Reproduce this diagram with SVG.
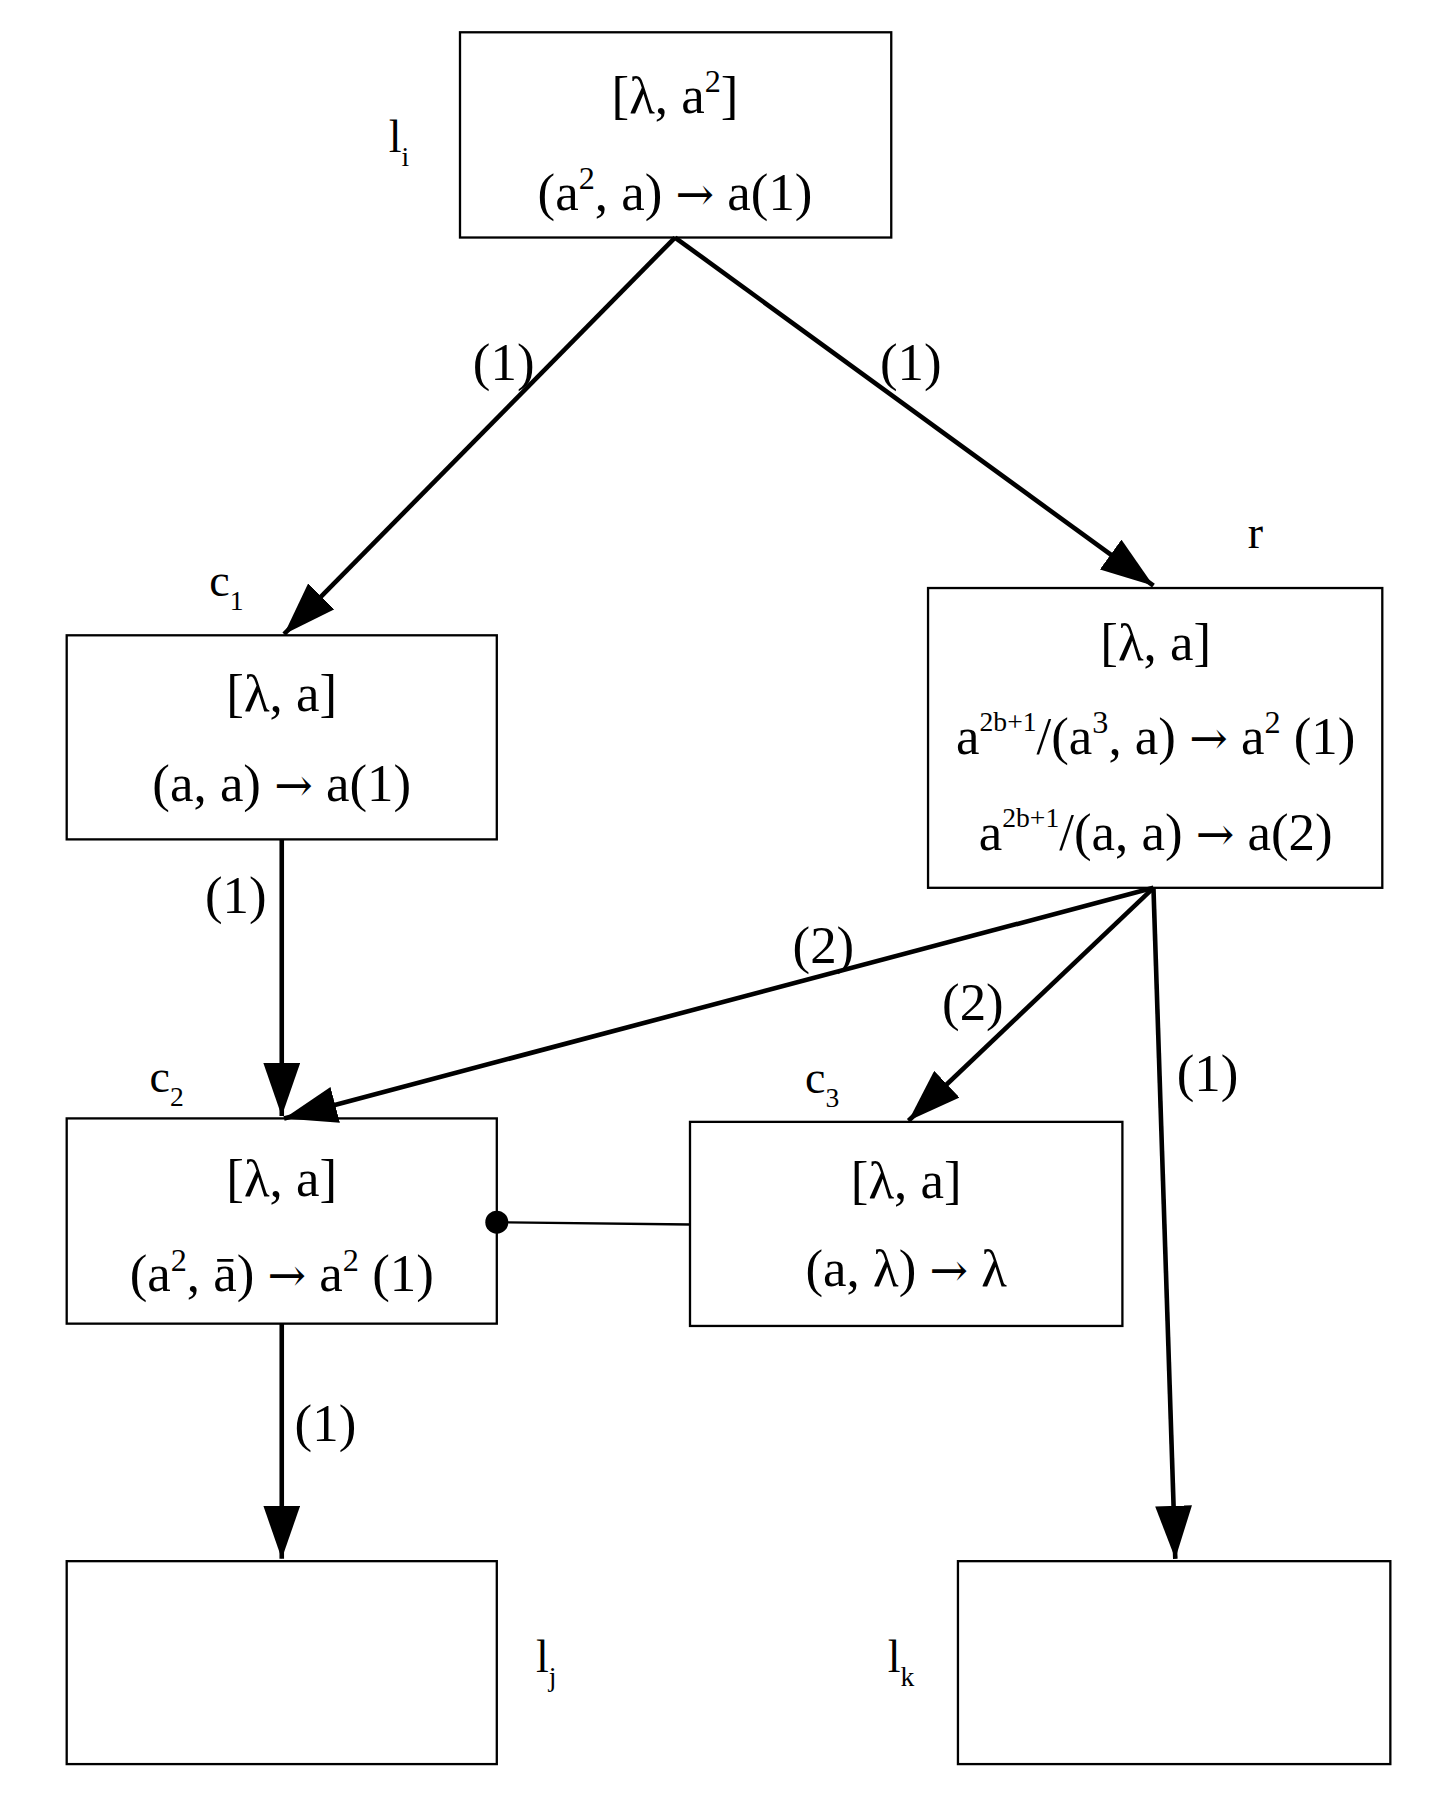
<svg xmlns="http://www.w3.org/2000/svg" width="1430" height="1810" viewBox="0 0 1430 1810">
<style>
.b{fill:#fff;stroke:#000;stroke-width:2}
text{font-family:"Liberation Serif","Times New Roman",serif;fill:#000}
.t{font-size:46px;text-anchor:middle}
.l{font-size:40px}
.ar{font-family:"DejaVu Serif",serif;font-size:40px}
.c{stroke:#000;stroke-width:4;fill:none}
</style>
<defs>
<marker id="ah" markerUnits="userSpaceOnUse" viewBox="0 0 46 32" refX="46" refY="16" markerWidth="46" markerHeight="32" orient="auto"><path d="M0,0 L46,16 L0,32 Z" fill="#000"/></marker>
</defs>
<rect width="1430" height="1810" fill="#fff"/>
<g transform="scale(1.15,1.153)">
<g id="li"><rect class="b" x="400" y="28" width="375" height="178"/>
<text class="t" x="587" y="98">[λ, a<tspan font-size="28" dy="-18">2</tspan><tspan dy="18">]</tspan></text>
<text class="t" x="587" y="182">(a<tspan font-size="28" dy="-18">2</tspan><tspan dy="18">, a) </tspan><tspan class="ar">→</tspan> a(1)</text>
<text class="l" x="338" y="132">l<tspan font-size="24" dy="12">i</tspan></text></g>
<g id="c1"><rect class="b" x="58" y="551" width="374" height="177"/>
<text class="t" x="245" y="617">[λ, a]</text>
<text class="t" x="245" y="695">(a, a) <tspan class="ar">→</tspan> a(1)</text>
<text class="l" x="182" y="517">c<tspan font-size="24" dy="12">1</tspan></text></g>
<g id="r"><rect class="b" x="807" y="510" width="395" height="260"/>
<text class="t" x="1005" y="572">[λ, a]</text>
<text class="t" x="1005" y="654">a<tspan font-size="24" dy="-20">2b+1</tspan><tspan dy="20">/(a</tspan><tspan font-size="28" dy="-18">3</tspan><tspan dy="18">, a) </tspan><tspan class="ar">→</tspan> a<tspan font-size="28" dy="-18">2</tspan><tspan dy="18"> (1)</tspan></text>
<text class="t" x="1005" y="737">a<tspan font-size="24" dy="-20">2b+1</tspan><tspan dy="20">/(a, a) </tspan><tspan class="ar">→</tspan> a(2)</text>
<text class="l" x="1085" y="475">r</text></g>
<g id="c2"><rect class="b" x="58" y="970" width="374" height="178"/>
<text class="t" x="245" y="1037">[λ, a]</text>
<text class="t" x="245" y="1120">(a<tspan font-size="28" dy="-18">2</tspan><tspan dy="18">, ā) </tspan><tspan class="ar">→</tspan> a<tspan font-size="28" dy="-18">2</tspan><tspan dy="18"> (1)</tspan></text>
<text class="l" x="130" y="947">c<tspan font-size="24" dy="12">2</tspan></text></g>
<g id="c3"><rect class="b" x="600" y="973" width="376" height="177"/>
<text class="t" x="788" y="1039">[λ, a]</text>
<text class="t" x="788" y="1115">(a, λ) <tspan class="ar">→</tspan> λ</text>
<text class="l" x="700" y="948">c<tspan font-size="24" dy="12">3</tspan></text></g>
<g id="lj"><rect class="b" x="58" y="1354" width="374" height="176"/>
<text class="l" x="466" y="1450">l<tspan font-size="24" dy="12">j</tspan></text></g>
<g id="lk"><rect class="b" x="833" y="1354" width="376" height="176"/>
<text class="l" x="772" y="1450">l<tspan font-size="24" dy="12">k</tspan></text></g>
<g id="connectors">
<line class="c" x1="587" y1="206" x2="247" y2="550" marker-end="url(#ah)"/>
<line class="c" x1="587" y1="206" x2="1003" y2="508" marker-end="url(#ah)"/>
<line class="c" x1="245" y1="728" x2="245" y2="968" marker-end="url(#ah)"/>
<line class="c" x1="1003" y1="770" x2="247" y2="970" marker-end="url(#ah)"/>
<line class="c" x1="1003" y1="770" x2="790" y2="972" marker-end="url(#ah)"/>
<line class="c" x1="1003" y1="770" x2="1022" y2="1352" marker-end="url(#ah)"/>
<line class="c" x1="245" y1="1148" x2="245" y2="1352" marker-end="url(#ah)"/>
<line x1="432" y1="1060" x2="600" y2="1062" stroke="#000" stroke-width="2"/>
<circle cx="432" cy="1060" r="10" fill="#000"/>
<text class="t" x="438" y="330">(1)</text>
<text class="t" x="792" y="330">(1)</text>
<text class="t" x="205" y="792">(1)</text>
<text class="t" x="716" y="835">(2)</text>
<text class="t" x="846" y="885">(2)</text>
<text class="t" x="1050" y="946">(1)</text>
<text class="t" x="283" y="1250">(1)</text>
</g>
</g>
</svg>
